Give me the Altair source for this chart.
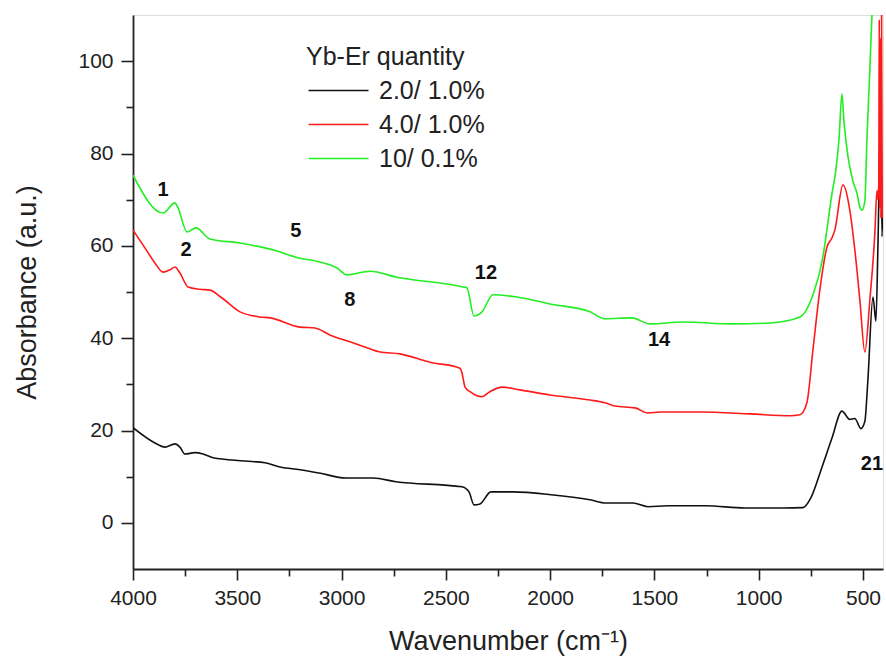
import altair as alt
import pandas as pd

# ---- data (wavenumber cm-1, absorbance a.u.) ----
series_names = ["2.0/ 1.0%", "4.0/ 1.0%", "10/ 0.1%"]
series_colors = ["#111111", "#ff1a1a", "#22ee22"]

black_wn = [4000, 3895, 3847, 3799, 3775, 3751, 3703, 3664, 3616, 3463, 3367, 3295, 3199,
            3108, 2979, 2849, 2739, 2423, 2389, 2365, 2336, 2284, 2178, 1996, 1809, 1732,
            1603, 1531, 1435, 1253, 1066, 879, 788, 750, 697, 649, 601, 563, 539, 510, 491,
            477, 452, 438, 428, 414, 409, 405]
black_abs = [20.6, 17.3, 16.4, 17.1, 16.4, 14.9, 15.2, 14.9, 14.1, 13.4, 13.0, 12.1, 11.5,
             10.8, 9.7, 9.7, 8.9, 7.8, 6.7, 3.9, 4.1, 6.7, 6.7, 6.1, 5.0, 4.3,
             4.3, 3.5, 3.7, 3.7, 3.2, 3.2, 3.3, 5.4, 12.0, 18.3, 24.2, 22.4, 22.6, 20.4, 22.0,
             30.5, 48.9, 43.7, 60.6, 90.7, 62.0, 68.0]

red_wn = [4000, 3942, 3895, 3856, 3823, 3799, 3775, 3736, 3679, 3631, 3573, 3487, 3391,
          3343, 3199, 3127, 3056, 2960, 2888, 2816, 2720, 2576, 2432, 2423, 2408, 2384,
          2327, 2289, 2231, 2145, 2001, 1809, 1737, 1689, 1593, 1531, 1474, 1282, 1042,
          850, 802, 769, 740, 707, 673, 649, 635, 596, 563, 539, 515, 491, 467, 443, 433,
          428, 424, 422, 420, 417, 414, 411, 408, 405]
red_abs = [63.4, 59.5, 56.3, 54.3, 54.8, 55.4, 54.1, 51.1, 50.6, 50.4, 48.7, 45.7, 44.6,
           44.4, 42.4, 42.2, 40.7, 39.2, 38.1, 37.0, 36.6, 34.8, 33.5, 32.5, 29.4, 28.4,
           27.3, 28.4, 29.4, 28.8, 27.7, 26.6, 26.0, 25.3, 24.9, 23.8, 24.0, 24.0, 23.6,
           23.2, 23.4, 26.0, 37.4, 50.4, 59.7, 61.7, 63.4, 73.2, 67.7, 59.1, 48.3, 37.0, 48.3,
           62.8, 72.0, 70.0, 74.0, 109.0, 68.0, 105.0, 66.0, 112.0, 70.0, 66.0]

green_wn = [4000, 3856, 3799, 3784, 3741, 3698, 3631, 3487, 3310, 3209, 3104, 3022, 2974,
            2864, 2734, 2418, 2399, 2365, 2327, 2274, 2159, 2001, 1809, 1737, 1608, 1522,
            1363, 1124, 946, 802, 740, 692, 668, 649, 630, 615, 601, 591, 572, 548, 529,
            515, 505, 491, 481, 467, 457, 450]
green_abs = [75.3, 67.1, 69.3, 68.2, 63.0, 63.9, 61.5, 60.6, 58.9, 57.4, 56.5, 55.2, 53.7,
             54.5, 53.2, 51.1, 50.9, 44.8, 45.7, 49.4, 48.9, 47.4, 45.7, 44.2, 44.4, 43.1,
             43.5, 43.1, 43.3, 44.6, 49.4, 57.6, 65.1, 71.2, 76.4, 83.1, 92.9, 86.8, 79.4,
             74.0, 71.4, 68.4, 67.7, 69.7, 83.1, 98.2, 110.0, 116.0]

peak_labels = ["1", "2", "5", "8", "12", "14", "21"]
peak_wn = [3856, 3746, 3219, 2960, 2308, 1478, 457]
peak_abs = [72.2, 59.1, 63.2, 48.3, 54.1, 39.6, 12.7]

x_major = [4000, 3500, 3000, 2500, 2000, 1500, 1000, 500]
x_minor = [3750, 3250, 2750, 2250, 1750, 1250, 750]
y_major = [0, 20, 40, 60, 80, 100]
y_minor = [10, 30, 50, 70, 90]

# ---- tables ----
rows = []
for name, wn, ab in zip(series_names, [black_wn, red_wn, green_wn],
                        [black_abs, red_abs, green_abs]):
    for i, (w, a) in enumerate(zip(wn, ab)):
        rows.append({"series": name, "wn": w, "abs": a, "order": i})
lines_df = pd.DataFrame(rows)
labels_df = pd.DataFrame({"label": peak_labels, "wn": peak_wn, "abs": peak_abs})

FONT = "Liberation Sans"
INK = "#222222"
xscale = alt.Scale(domain=[4000, 404], nice=False, zero=False)
yscale = alt.Scale(domain=[-10, 110], nice=False, zero=False)

lines = alt.Chart(lines_df).mark_line(strokeWidth=1.6, clip=True,
                                      interpolate="monotone").encode(
    x=alt.X("wn:Q", scale=xscale,
            axis=alt.Axis(values=x_major, format="d", orient="bottom", tickSize=11,
                          tickWidth=1.6, domainWidth=1.8, domainColor=INK,
                          tickColor=INK, labelFontSize=21, labelFont=FONT,
                          labelColor=INK, labelPadding=7, labelFlush=False, grid=False,
                          title="Wavenumber (cm\u207b\u00b9)", titleFont=FONT,
                          titleFontSize=27, titleFontWeight="normal",
                          titleColor=INK, titlePadding=20)),
    y=alt.Y("abs:Q", scale=yscale,
            axis=alt.Axis(values=y_major, format="d", orient="left", tickSize=12,
                          tickWidth=1.6, domainWidth=1.8, domainColor=INK,
                          tickColor=INK, labelFontSize=21, labelFont=FONT,
                          labelColor=INK, labelPadding=8, grid=False,
                          title="Absorbance (a.u.)", titleFont=FONT,
                          titleFontSize=27, titleFontWeight="normal",
                          titleColor=INK, titlePadding=36)),
    color=alt.Color("series:N",
                    scale=alt.Scale(domain=series_names, range=series_colors),
                    legend=alt.Legend(orient="none", legendX=173, legendY=30,
                                      title="Yb-Er quantity", titleFont=FONT,
                                      titleFontSize=25, titleFontWeight="normal",
                                      titleColor=INK, titlePadding=8,
                                      labelFont=FONT, labelFontSize=25,
                                      labelColor=INK,
                                      symbolType="M-1,0L5,0", symbolSize=400,
                                      symbolStrokeWidth=1.6, labelOffset=48,
                                      rowPadding=8, padding=0)),
    order="order:Q",
)

texts = alt.Chart(labels_df).mark_text(
    font=FONT, fontSize=20, fontWeight="bold", color="#111",
    align="center", baseline="middle"
).encode(
    x=alt.X("wn:Q", scale=xscale,
            axis=alt.Axis(values=x_minor, orient="bottom", tickSize=7, tickWidth=1.6,
                          tickColor=INK, domain=False, labels=False, grid=False,
                          title="")),
    y=alt.Y("abs:Q", scale=yscale,
            axis=alt.Axis(values=y_minor, orient="left", tickSize=7, tickWidth=1.6,
                          tickColor=INK, domain=False, labels=False, grid=False,
                          title="")),
    text="label:N",
)

chart = alt.layer(lines, texts).resolve_axis(x="independent", y="independent").properties(
    width=750, height=554,
    padding={"left": 133, "top": 15, "right": 3, "bottom": 94},
    autosize=alt.AutoSizeParams(type="none"),
).configure_view(stroke=None).configure(background="white")

chart.save("out.html", embed_options={"renderer": "svg", "actions": False})
